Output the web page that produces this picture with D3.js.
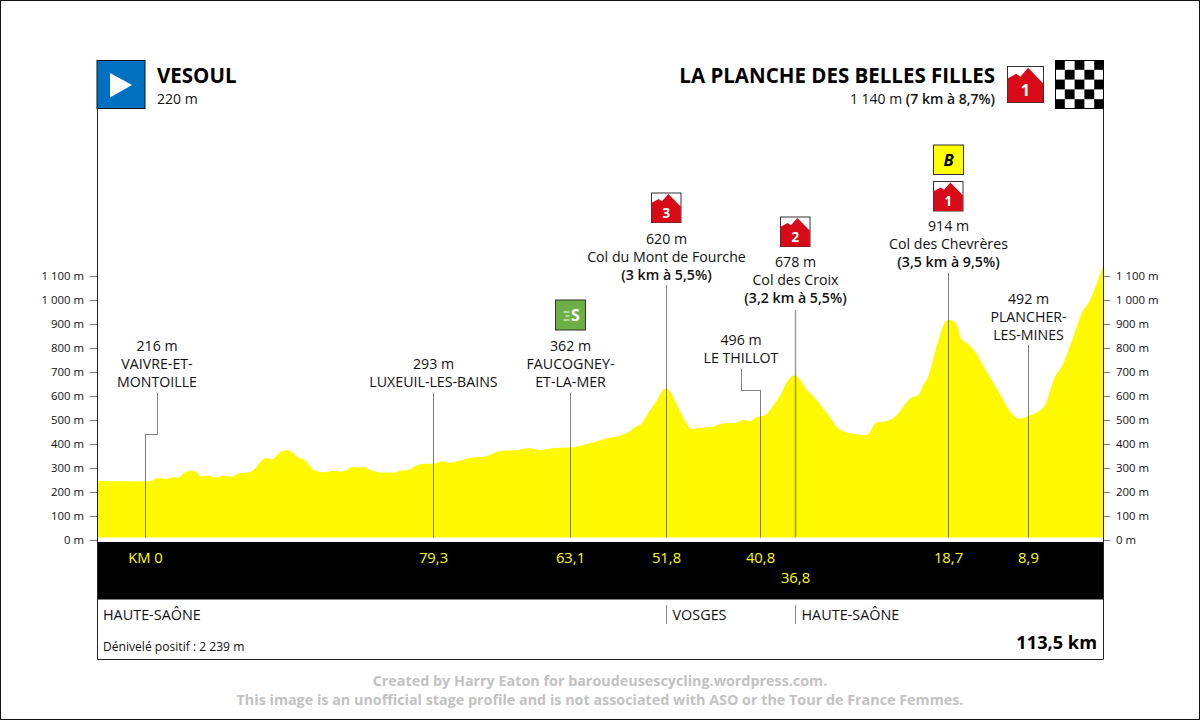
<!DOCTYPE html>
<html><head><meta charset="utf-8">
<script src="https://cdn.jsdelivr.net/npm/d3@7/dist/d3.min.js"></script>
<style>html,body{margin:0;padding:0;background:#fff}svg{display:block}text{font-family:"Open Sans",sans-serif;fill:#111}</style>
</head><body><svg id="c" width="1200" height="720"></svg>
<script>
const profileKm=[119.05,113.13,112.54,111.95,110.77,110.17,109.58,108.6,107.81,107.29,106.82,106.03,105.05,104.06,103.07,102.28,101.1,100.31,99.52,98.93,98.34,97.35,96.64,95.97,95.38,94.39,93.41,92.03,91.04,90.25,89.46,88.88,88.09,87.58,86.71,85.33,83.95,83.16,82.17,81.38,80.4,79.21,78.23,77.44,76.25,74.68,73.3,71.13,69.35,67.97,66.59,65.01,63.04,61.86,59.88,58.7,57.12,55.93,55.34,54.63,53.77,52.78,52.07,51.67,51.28,50.41,49.23,48.72,47.65,46.27,44.89,43.51,42.52,41.73,40.94,39.96,39.17,38.18,37.2,36.6,36.21,35.03,34.04,32.66,31.08,29.5,27.97,26.79,25.8,24.62,22.65,21.86,21.26,20.67,20.08,19.29,18.58,18.19,17.52,17.2,16.81,15.94,15.15,13.77,12.59,10.42,9.82,8.84,7.65,6.87,5.68,4.89,3.51,2.33,1.74,0.75,0];
const profileElev=[246,244,247,257,254,261,258,282,289,282,265,269,261,268,263,278,282,299,333,342,336,367,374,367,347,331,292,282,289,285,292,304,301,304,292,281,281,289,292,308,318,318,328,322,329,344,347,372,374,383,374,383,385,393,411,424,435,454,472,483,532,583,625,631,622,562,482,462,468,472,486,489,500,496,512,521,553,604,669,685,681,625,590,528,458,442,437,490,494,514,594,603,646,681,757,854,912,917,908,889,840,817,785,701,632,514,505,517,535,561,681,722,847,958,986,1069,1143];
const elevTicks=[0,100,200,300,400,500,600,700,800,900,1000,1100];
const passKm=[113.37,79.3,63.08,51.7,40.6,36.45,18.34,8.88];
const passKmLabels=["KM 0","79,3","63,1","51,8","40,8","36,8","18,7","8,9"];
const passLabelRow=[0,0,0,0,0,1,0,0];
const passLeaderTop=[393,393,393,285,369,310,273,345];
const passLeaderElbow=[[434,157],null,null,null,[390,741],null,null,null];
const passLeaderWidth=[1,1,1,1,1,1.5,1,1];
const passTitles=[["216 m","VAIVRE-ET-","MONTOILLE"],["293 m","LUXEUIL-LES-BAINS"],["362 m","FAUCOGNEY-","ET-LA-MER"],["620 m","Col du Mont de Fourche","(3 km à 5,5%)"],["496 m","LE THILLOT"],["678 m","Col des Croix","(3,2 km à 5,5%)"],["914 m","Col des Chevrères","(3,5 km à 9,5%)"],["492 m","PLANCHER-","LES-MINES"]];
const passTitleBottom=[387,387,387,280,363,303,267,340];
const climbCats=["3","2","1"];
const climbKm=[51.7,36.45,18.34];
const climbTop=[192.5,216.5,181];
const sprintKm=63.08, bonusKm=18.34;
const deptKm=[51.7,36.45];
const deptNames=["VOSGES","HAUTE-SAÔNE"];
const F='"Open Sans",sans-serif';

const svg=d3.select("#c");
const x=d3.scaleLinear().domain([119.05,0]).range([97,1103]);
const y=d3.scaleLinear().domain([0,1100]).range([540,276]);
const fmt=v=>(v>=1000?Math.floor(v/1000)+" "+String(v%1000).padStart(3,"0"):v)+" m";

svg.append("rect").attr("x",.5).attr("y",.5).attr("width",1199).attr("height",719).attr("fill","#fff").attr("stroke","#111");

// profile
const pts=profileKm.map((k,i)=>[k,profileElev[i]]);
svg.append("path").datum(pts).attr("fill","#fff900")
 .attr("d",d3.area().x(d=>x(d[0])).y0(537.5).y1(d=>y(d[1])).curve(d3.curveMonotoneX));

// axes
[[d3.axisLeft(y),97],[d3.axisRight(y),1103]].forEach(([ax,px])=>{
 const g=svg.append("g").attr("transform",`translate(${px},0)`)
  .call(ax.tickValues(elevTicks).tickFormat(fmt).tickSize(7).tickPadding(6));
 g.select(".domain").remove();
 g.selectAll("line").attr("stroke","#777");
 g.selectAll("text").attr("font-size",11.4).attr("font-family",F).attr("fill","#222");
});

// panel
svg.append("rect").attr("x",97).attr("y",542).attr("width",1006).attr("height",57.5).attr("fill","#000");
svg.append("path").attr("d","M97.5,108V659.5H1103.5V108").attr("fill","none").attr("stroke","#222");

// leaders
passKm.forEach((k,i)=>{
 const px=Math.round(x(k))+.5, e=passLeaderElbow[i];
 const d=e?`M${px},537.5V${e[0]+.5}H${e[1]+.5}V${passLeaderTop[i]}`:`M${px},537.5V${passLeaderTop[i]}`;
 svg.append("path").attr("d",d).attr("fill","none").attr("stroke","#000").attr("stroke-opacity",i===5?.38:.5).attr("stroke-width",passLeaderWidth[i]);
 const cx=e?e[1]:px, L=passTitles[i];
 L.forEach((t,j)=>{
  svg.append("text").attr("x",cx).attr("y",passTitleBottom[i]-(L.length-1-j)*18).attr("text-anchor","middle")
   .attr("font-size",14.2).attr("font-weight",t[0]==="("?600:400).text(t);
 });
 svg.append("text").attr("x",px).attr("y",563+passLabelRow[i]*20).attr("text-anchor","middle")
  .attr("font-size",14.8).style("fill","#ffff00").text(passKmLabels[i]);
});

// climb icons
function climb(px,py,s,cat){
 const g=svg.append("g").attr("transform",`translate(${px},${py})`);
 g.append("rect").attr("x",.5).attr("y",.5).attr("width",s-1).attr("height",s-1).attr("fill","#fff").attr("stroke","#333");
 const P=[[0.02,.34],[.25,.21],[.36,.29],[.57,.05],[.98,.47],[.98,.98],[.02,.98]];
 g.append("path").attr("d",d3.line()(P.map(p=>[p[0]*s,p[1]*s]))+"Z").attr("fill","#d90a18");
 g.append("text").attr("x",s/2).attr("y",s*.82).attr("text-anchor","middle").attr("font-size",s*.44).attr("font-weight",700).style("fill","#fff").text(cat);
}
climbCats.forEach((c,i)=>climb(Math.round(x(climbKm[i]))-15,climbTop[i],30.5,c));
climb(1007,66,37,"1");

// bonus
const bx=Math.round(x(bonusKm))-15;
svg.append("rect").attr("x",bx+.5).attr("y",145).attr("width",30).attr("height",29.5).attr("fill","#ffff00").attr("stroke","#333");
svg.append("text").attr("x",bx+15.5).attr("y",165.5).attr("text-anchor","middle").attr("font-size",16.5).attr("font-weight",700).attr("font-style","italic").style("fill","#000").text("B");

// sprint
const sx=Math.round(x(sprintKm))-15;
svg.append("rect").attr("x",sx+.5).attr("y",300).attr("width",30).attr("height",30).attr("fill","#6dae45").attr("stroke","#333");
[[312,6],[316,4],[320,6]].forEach(l=>svg.append("path").attr("d",`M${sx+14.5-l[1]},${l[0]}h${l[1]}`).attr("stroke","#fff").attr("stroke-width",1));
svg.append("text").attr("x",sx+20.5).attr("y",321).attr("text-anchor","middle").attr("font-size",16).attr("font-weight",700).style("fill","#fff").text("S");

// start flag
svg.append("rect").attr("x",97).attr("y",60.5).attr("width",48).attr("height",48).attr("fill","#0070c0").attr("stroke","#111");
svg.append("path").attr("d","M110,73L132,85L110,97.5Z").attr("fill","#fff");

// checker
const chk=d3.range(25);
svg.append("rect").attr("x",1055).attr("y",60).attr("width",49).attr("height",49).attr("fill","#fff");
svg.selectAll(".chk").data(chk.filter(i=>((i%5)+Math.floor(i/5))%2===0)).join("rect")
 .attr("x",i=>1055+(i%5)*9.8).attr("y",i=>60+Math.floor(i/5)*9.8).attr("width",9.8).attr("height",9.8).attr("fill","#000");
svg.append("rect").attr("x",1055.5).attr("y",60.5).attr("width",48).attr("height",48).attr("fill","none").attr("stroke","#000");

// heads
svg.append("text").attr("x",157).attr("y",83).attr("font-size",20.5).attr("font-weight",700).style("fill","#000").text("VESOUL");
svg.append("text").attr("x",157).attr("y",104).attr("font-size",14).text("220 m");
svg.append("text").attr("x",995).attr("y",83).attr("text-anchor","end").attr("font-size",20.5).attr("font-weight",700).style("fill","#000").text("LA PLANCHE DES BELLES FILLES");
const sub=svg.append("text").attr("x",995).attr("y",104).attr("text-anchor","end").attr("font-size",14);
sub.append("tspan").text("1 140 m ");
sub.append("tspan").attr("font-weight",600).text("(7 km à 8,7%)");

// departments
svg.append("text").attr("x",103).attr("y",620).attr("font-size",14.4).text("HAUTE-SAÔNE");
deptKm.forEach((k,i)=>{
 const px=Math.round(x(k))+.5;
 svg.append("path").attr("d",`M${px},605V624`).attr("stroke","#888");
 svg.append("text").attr("x",px+6).attr("y",620).attr("font-size",14.4).text(deptNames[i]);
});
svg.append("text").attr("x",103).attr("y",651).attr("font-size",12.1).text("Dénivelé positif : 2 239 m");
svg.append("text").attr("x",1097).attr("y",649).attr("text-anchor","end").attr("font-size",18.2).attr("font-weight",700).style("fill","#000").text("113,5 km");

// footer
["Created by Harry Eaton for baroudeusescycling.wordpress.com.","This image is an unofficial stage profile and is not associated with ASO or the Tour de France Femmes."].forEach((t,i)=>{
 svg.append("text").attr("x",600).attr("y",686+i*19).attr("text-anchor","middle").attr("font-size",14.35).attr("font-weight",700).style("fill","#c2c2c2").text(t);
});
</script></body></html>
